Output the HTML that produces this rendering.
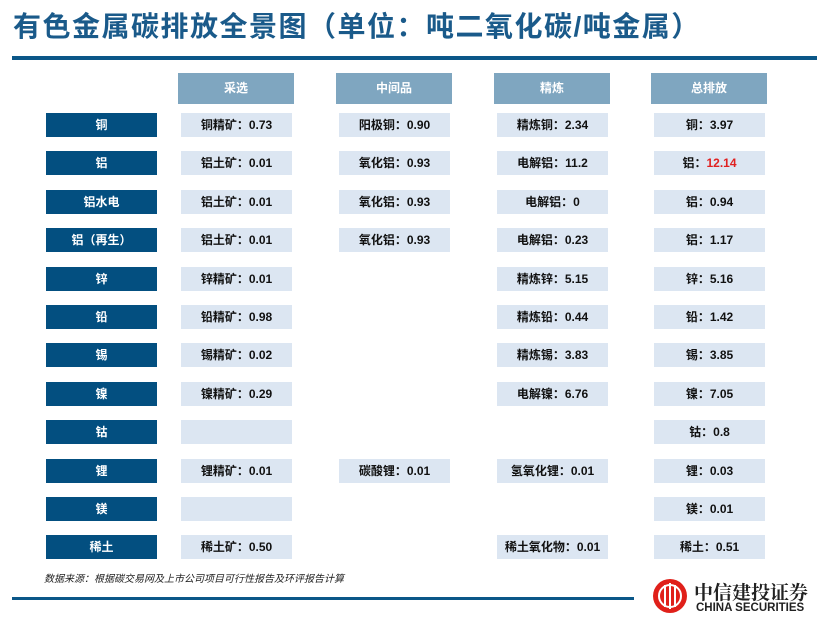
<!DOCTYPE html>
<html><head><meta charset="utf-8"><style>
body{margin:0;width:828px;height:627px;background:#fff;position:relative;overflow:hidden;font-family:"Liberation Sans","Noto Sans CJK SC",sans-serif}
.a{position:absolute}
.t{left:13px;top:5px;font-size:28px;font-weight:bold;color:#1a5a8a;letter-spacing:1.5px}
.h{background:#7fa6c0;color:#fff;font-size:12px;font-weight:bold;text-align:center;line-height:31px;height:31px;width:116px;top:73px}
.l{left:46px;width:111px;height:24px;background:#034f80;color:#fff;font-size:12px;font-weight:bold;text-align:center;line-height:24px}
.c{width:111px;height:24px;background:#dce6f2;color:#111;font-size:12px;font-weight:bold;text-align:center;line-height:24px}
</style></head><body>
<div class="a t">有色金属碳排放全景图（单位：吨二氧化碳/吨金属）</div>
<div class="a" style="left:12px;top:56px;width:805px;height:4px;background:#0b5788"></div>
<div class="a h" style="left:178px">采选</div>
<div class="a h" style="left:336px">中间品</div>
<div class="a h" style="left:494px">精炼</div>
<div class="a h" style="left:651px">总排放</div>
<div id="rows"></div>
<div class="a" style="left:44px;top:570px;font-size:10px;font-style:italic;color:#222">数据来源：根据碳交易网及上市公司项目可行性报告及环评报告计算</div>
<div class="a" style="left:12px;top:597px;width:622px;height:3px;background:#0b5788"></div>
<svg class="a" style="left:651px;top:577px" width="38" height="38" viewBox="0 0 38 38"><circle cx="19" cy="19" r="17" fill="#e0201a"/><circle cx="19" cy="19" r="11" fill="none" stroke="#fff" stroke-width="2"/><rect x="13" y="8" width="2" height="22" fill="#fff"/><rect x="18" y="6" width="2" height="26" fill="#fff"/><rect x="23" y="8" width="2" height="22" fill="#fff"/></svg>
<div class="a" style="left:694px;top:578px;font-size:19px;font-weight:bold;color:#222;font-family:'Noto Serif CJK SC',serif">中信建投证券</div>
<div class="a" style="left:696px;top:602px;font-size:11.5px;font-weight:bold;color:#222">CHINA SECURITIES</div>
<script>
var d=[["铜","铜精矿：0.73","阳极铜：0.90","精炼铜：2.34","铜：3.97"],
["铝","铝土矿：0.01","氧化铝：0.93","电解铝：11.2","铝：<span style='color:#e02020'>12.14</span>"],
["铝水电","铝土矿：0.01","氧化铝：0.93","电解铝：0","铝：0.94"],
["铝（再生）","铝土矿：0.01","氧化铝：0.93","电解铝：0.23","铝：1.17"],
["锌","锌精矿：0.01","","精炼锌：5.15","锌：5.16"],
["铅","铅精矿：0.98","","精炼铅：0.44","铅：1.42"],
["锡","锡精矿：0.02","","精炼锡：3.83","锡：3.85"],
["镍","镍精矿：0.29","","电解镍：6.76","镍：7.05"],
["钴","-","","","钴：0.8"],
["锂","锂精矿：0.01","碳酸锂：0.01","氢氧化锂：0.01","锂：0.03"],
["镁","-","","","镁：0.01"],
["稀土","稀土矿：0.50","","稀土氧化物：0.01","稀土：0.51"]];
var xs=[181,339,497,654],h="";
d.forEach(function(r,i){var y=Math.round(113+i*38.4);
h+='<div class="a l" style="top:'+y+'px">'+r[0]+'</div>';
for(var j=1;j<5;j++){if(r[j]==="")continue;h+='<div class="a c" style="left:'+xs[j-1]+'px;top:'+y+'px">'+(r[j]==="-"?"":r[j])+'</div>';}});
document.getElementById("rows").innerHTML=h;
</script>
</body></html>
